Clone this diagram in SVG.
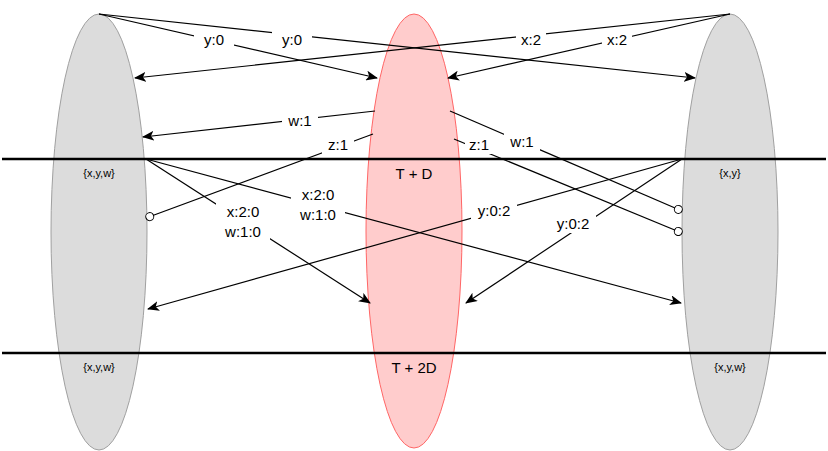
<svg xmlns="http://www.w3.org/2000/svg" width="828" height="451" viewBox="0 0 828 451">
<style>
.e{fill:#dcdcdc;stroke:#a0a0a0;stroke-width:1}
.m{fill:#ffcccc;stroke:#ff6666;stroke-width:1}
.c{stroke:#000;stroke-width:1.2;fill:none}
.a{marker-end:url(#ar)}
.o{marker-end:url(#oc)}
.h{stroke:#000;stroke-width:2.5}
.t{font-family:"Liberation Sans",Arial,sans-serif;font-size:15px;text-anchor:middle;fill:#000}
.s{font-family:"Liberation Sans",Arial,sans-serif;font-size:11px;text-anchor:middle;fill:#000}
.bg{fill:#fff}
</style>
<defs>
<marker id="ar" markerWidth="12" markerHeight="10" refX="11" refY="5" orient="auto" markerUnits="userSpaceOnUse">
<path d="M0,0 L12,5 L0,10 L3,5 Z" fill="#000"/>
</marker>
<marker id="oc" markerWidth="10" markerHeight="10" refX="9" refY="5" orient="auto" markerUnits="userSpaceOnUse">
<circle cx="5" cy="5" r="4" fill="#fff" stroke="#000"/>
</marker>
</defs>
<g id="left"><ellipse class="e" cx="99" cy="232" rx="48" ry="218"/></g>
<g id="mid"><ellipse class="m" cx="414" cy="231" rx="48" ry="217"/></g>
<g id="right"><ellipse class="e" cx="730" cy="232" rx="48" ry="218"/></g>
<g id="rows">
<line class="h" x1="2" y1="159" x2="826" y2="159"/>
<line class="h" x1="2" y1="353" x2="826" y2="353"/>
</g>
<g id="connectors">
<line class="c a" x1="99" y1="14" x2="377" y2="78"/>
<line class="c a" x1="99" y1="14" x2="695" y2="78"/>
<line class="c a" x1="730" y1="14" x2="135" y2="78"/>
<line class="c a" x1="730" y1="14" x2="448" y2="78"/>
<line class="c a" x1="375" y1="111" x2="143" y2="137"/>
<line class="c o" x1="373" y1="134" x2="146" y2="218"/>
<line class="c o" x1="450" y1="111" x2="682" y2="211"/>
<line class="c o" x1="454" y1="139" x2="682" y2="233"/>
<line class="c a" x1="146" y1="159" x2="370" y2="303"/>
<line class="c a" x1="146" y1="159" x2="681" y2="303"/>
<line class="c a" x1="682" y1="159" x2="148" y2="309"/>
<line class="c a" x1="682" y1="159" x2="466" y2="303"/>
</g>
<g id="labels">
<rect class="bg" x="194" y="31" width="40" height="18"/><text class="t" x="214" y="45">y:0</text>
<rect class="bg" x="272" y="31" width="40" height="18"/><text class="t" x="292" y="45">y:0</text>
<rect class="bg" x="516" y="31" width="30" height="18"/><text class="t" x="531" y="45">x:2</text>
<rect class="bg" x="602" y="31" width="30" height="18"/><text class="t" x="617" y="45">x:2</text>
<rect class="bg" x="282" y="112" width="36" height="18"/><text class="t" x="300" y="126">w:1</text>
<rect class="bg" x="322" y="136" width="32" height="18"/><text class="t" x="338" y="150">z:1</text>
<rect class="bg" x="465" y="136" width="28" height="18"/><text class="t" x="479" y="150">z:1</text>
<rect class="bg" x="504" y="133" width="36" height="18"/><text class="t" x="522" y="147">w:1</text>
<rect class="bg" x="216" y="203" width="54" height="40"/><text class="t" x="243" y="217">x:2:0</text><text class="t" x="243" y="237">w:1:0</text>
<rect class="bg" x="291" y="186" width="54" height="40"/><text class="t" x="318" y="200">x:2:0</text><text class="t" x="318" y="220">w:1:0</text>
<rect class="bg" x="471" y="202" width="46" height="18"/><text class="t" x="494" y="216">y:0:2</text>
<rect class="bg" x="550" y="215" width="46" height="18"/><text class="t" x="573" y="229">y:0:2</text>
<text class="s" x="99" y="177">{x,y,w}</text>
<text class="t" x="414" y="179">T + D</text>
<text class="s" x="730" y="177">{x,y}</text>
<text class="s" x="99" y="371">{x,y,w}</text>
<text class="t" x="414" y="373">T + 2D</text>
<text class="s" x="730" y="371">{x,y,w}</text>
</g>
</svg>
